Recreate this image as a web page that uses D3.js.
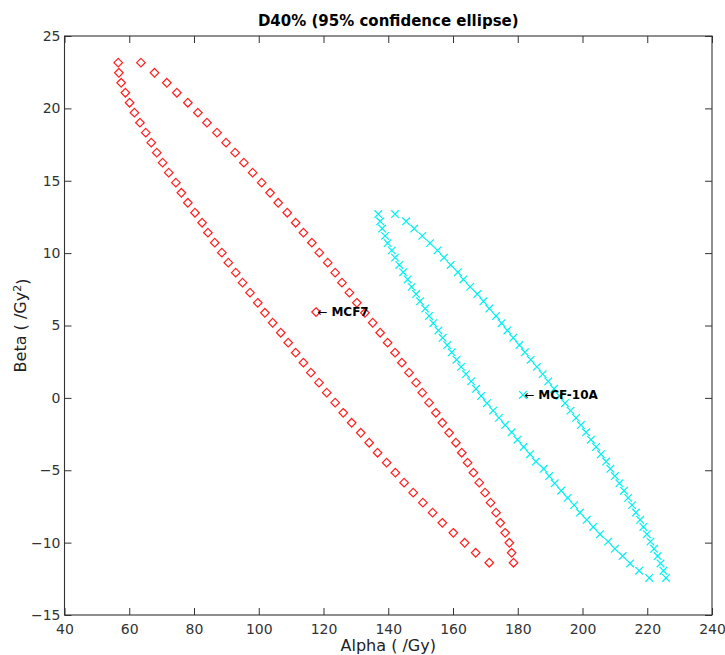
<!DOCTYPE html>
<html><head><meta charset="utf-8">
<script src="https://cdn.jsdelivr.net/npm/d3@7"></script>
<style>body{margin:0;background:#fff}svg{display:block}</style>
</head><body>
<script>
// ---------------- data ----------------
const xTickValues = [40, 60, 80, 100, 120, 140, 160, 180, 200, 220, 240];
const yTickValues = [-15, -10, -5, 0, 5, 10, 15, 20, 25];
const titleText = "D40% (95% confidence ellipse)";
const xLabelText = "Alpha ( /Gy)";

// MCF7 ellipse (red diamonds): beta levels, alpha on left and right branch
const mcf7Beta = [23.16, 22.46, 21.77, 21.08, 20.39, 19.70, 19.01, 18.32, 17.63, 16.94,
  16.25, 15.56, 14.87, 14.17, 13.48, 12.79, 12.10, 11.41, 10.72, 10.03,
  9.34, 8.65, 7.96, 7.27, 6.57, 5.88, 5.19, 4.50, 3.81, 3.12,
  2.43, 1.74, 1.05, 0.36, -0.33, -1.03, -1.72, -2.41, -3.10, -3.79,
  -4.48, -5.17, -5.86, -6.55, -7.24, -7.93, -8.63, -9.32, -10.01, -10.70, -11.39];
const mcf7AlphaLeft = [56.6, 56.8, 57.5, 58.8, 60.1, 61.6, 63.3, 65.1, 66.8, 68.5,
  70.3, 72.2, 74.4, 76.1, 78.1, 80.3, 82.5, 84.3, 86.4, 88.6,
  90.6, 92.9, 95.0, 97.3, 99.7, 101.9, 104.3, 106.8, 109.1, 111.4,
  113.8, 116.1, 118.6, 121.0, 123.6, 126.1, 128.7, 131.5, 134.1, 136.7,
  139.5, 142.2, 144.9, 147.7, 150.7, 153.7, 156.7, 160.1, 163.6, 167.0, 171.2];
const mcf7AlphaRight = [63.6, 67.8, 71.6, 74.7, 78.1, 81.2, 84.0, 87.1, 89.9, 92.7,
  95.4, 98.1, 100.9, 103.5, 106.0, 108.8, 111.4, 113.8, 116.4, 118.7,
  121.3, 123.6, 125.7, 128.0, 130.3, 132.8, 135.2, 137.5, 139.8, 142.1,
  144.2, 146.4, 148.6, 150.5, 152.6, 154.7, 156.7, 158.8, 160.9, 162.7,
  164.5, 166.3, 168.1, 169.9, 171.6, 173.3, 174.6, 176.1, 177.4, 178.1, 178.7];
const mcf7Center = [117.7, 5.93];

// MCF-10A ellipse (cyan crosses)
const mcf10aBeta = [12.70, 12.20, 11.70, 11.19, 10.69, 10.19, 9.69, 9.18, 8.68, 8.18,
  7.67, 7.17, 6.67, 6.17, 5.66, 5.16, 4.66, 4.15, 3.65, 3.15,
  2.64, 2.14, 1.64, 1.14, 0.63, 0.13, -0.37, -0.88, -1.38, -1.88,
  -2.38, -2.89, -3.39, -3.89, -4.40, -4.90, -5.40, -5.90, -6.41, -6.91,
  -7.41, -7.92, -8.42, -8.92, -9.42, -9.93, -10.43, -10.93, -11.44, -11.94, -12.44];
const mcf10aAlphaLeft = [136.9, 137.5, 138.1, 139.0, 139.8, 141.1, 142.1, 143.4, 144.6, 146.0,
  147.2, 148.6, 149.8, 151.4, 152.6, 153.9, 155.5, 156.8, 158.2, 159.6,
  161.1, 162.5, 164.0, 165.6, 167.1, 168.7, 170.5, 172.4, 174.2, 176.1,
  178.1, 179.9, 181.8, 183.8, 185.6, 188.0, 189.7, 191.4, 193.4, 195.4,
  197.4, 199.2, 201.3, 203.3, 205.4, 207.9, 210.0, 212.4, 214.7, 217.5, 220.6];
const mcf10aAlphaRight = [142.1, 145.5, 148.0, 150.5, 152.9, 155.2, 157.2, 159.3, 161.5, 163.2,
  165.3, 167.5, 169.4, 171.2, 173.3, 175.0, 176.8, 178.6, 180.5, 182.2,
  184.0, 185.9, 187.7, 189.4, 191.2, 192.9, 194.6, 196.3, 198.0, 199.5,
  201.1, 202.6, 204.2, 205.7, 207.3, 208.6, 210.0, 211.4, 212.8, 214.1,
  215.3, 216.5, 217.8, 218.8, 219.9, 221.0, 222.1, 223.2, 224.1, 225.0, 225.8];
const mcf10aCenter = [181.6, 0.20];

const labelNames = ["MCF7", "MCF-10A"];

// ---------------- drawing ----------------
const W = 725, H = 655;
const svg = d3.select("body").append("svg").attr("width", W).attr("height", H);
const x = d3.scaleLinear().domain([40, 240]).range([64.5, 712]);
const y = d3.scaleLinear().domain([-15, 25]).range([615, 36]);
const FONT = "'DejaVu Sans', 'Liberation Sans', Arial, sans-serif";
const axisColor = "#333";
const fmt = d => (d < 0 ? "\u2212" + Math.abs(d) : String(d));

function styleAxis(g, showText) {
  g.selectAll(".domain").remove();
  g.selectAll("line").attr("stroke", axisColor).attr("stroke-width", 1);
  g.selectAll("text").attr("fill", "#333").style("font-family", FONT).style("font-size", "14px");
  if (!showText) g.selectAll("text").remove();
}

svg.append("g").attr("transform", "translate(0,615)")
  .call(d3.axisBottom(x).tickValues(xTickValues).tickFormat(fmt).tickSizeInner(-7).tickSizeOuter(0).tickPadding(9))
  .call(g => styleAxis(g, true));
svg.append("g").attr("transform", "translate(0,36)")
  .call(d3.axisTop(x).tickValues(xTickValues).tickSizeInner(-7).tickSizeOuter(0))
  .call(g => styleAxis(g, false));
svg.append("g").attr("transform", "translate(64.5,0)")
  .call(d3.axisLeft(y).tickValues(yTickValues).tickFormat(fmt).tickSizeInner(-7).tickSizeOuter(0).tickPadding(4))
  .call(g => styleAxis(g, true));
svg.append("g").attr("transform", "translate(712,0)")
  .call(d3.axisRight(y).tickValues(yTickValues).tickSizeInner(-7).tickSizeOuter(0))
  .call(g => styleAxis(g, false));

// frame
svg.append("rect").attr("x", x(40)).attr("y", y(25))
  .attr("width", x(240) - x(40)).attr("height", y(-15) - y(25))
  .attr("fill", "none").attr("stroke", axisColor).attr("stroke-width", 1.1);

// points
const mcf7Pts = mcf7Beta.map((b, i) => [mcf7AlphaLeft[i], b])
  .concat(mcf7Beta.map((b, i) => [mcf7AlphaRight[i], b]));
const mcf10aPts = mcf10aBeta.map((b, i) => [mcf10aAlphaLeft[i], b])
  .concat(mcf10aBeta.map((b, i) => [mcf10aAlphaRight[i], b]));

const dR = 4.3;
const diamond = `M0,${-dR}L${dR},0L0,${dR}L${-dR},0Z`;
const xr = 3.8;
const cross = `M${-xr},${-xr}L${xr},${xr}M${-xr},${xr}L${xr},${-xr}`;

svg.append("g").selectAll("path").data(mcf7Pts.concat([mcf7Center])).join("path")
  .attr("d", diamond)
  .attr("transform", d => `translate(${x(d[0])},${y(d[1])})`)
  .attr("fill", "none").attr("stroke", "#ff2020").attr("stroke-width", 1.2);

svg.append("g").selectAll("path").data(mcf10aPts.concat([mcf10aCenter])).join("path")
  .attr("d", cross)
  .attr("transform", d => `translate(${x(d[0])},${y(d[1])})`)
  .attr("fill", "none").attr("stroke", "#00f0f0").attr("stroke-width", 1.2);

// annotations
[[mcf7Center, labelNames[0]], [mcf10aCenter, labelNames[1]]].forEach(([c, name]) => {
  const t = svg.append("text")
    .attr("x", x(c[0]) + 1.5).attr("y", y(c[1])).attr("dy", "0.36em")
    .style("font-family", FONT).style("font-size", "12px").attr("fill", "#000");
  t.append("tspan").text("\u2190 ");
  t.append("tspan").style("font-weight", "bold").text(name);
});

// title & labels
svg.append("text").attr("x", (x(40) + x(240)) / 2).attr("y", 26)
  .attr("text-anchor", "middle").style("font-family", FONT).style("font-size", "15px")
  .style("font-weight", "bold").attr("fill", "#000").text(titleText);

svg.append("text").attr("x", (x(40) + x(240)) / 2).attr("y", 651)
  .attr("text-anchor", "middle").style("font-family", FONT).style("font-size", "16px")
  .attr("fill", "#222").text(xLabelText);

const yl = svg.append("text").attr("transform", `translate(26,${(y(25) + y(-15)) / 2}) rotate(-90)`)
  .attr("text-anchor", "middle").style("font-family", FONT).style("font-size", "16px")
  .attr("fill", "#222");
yl.append("tspan").text("Beta ( /Gy");
yl.append("tspan").attr("dy", "-0.45em").style("font-size", "11px").text("2");
yl.append("tspan").attr("dy", "0.45em").text(")");
</script>
</body></html>
